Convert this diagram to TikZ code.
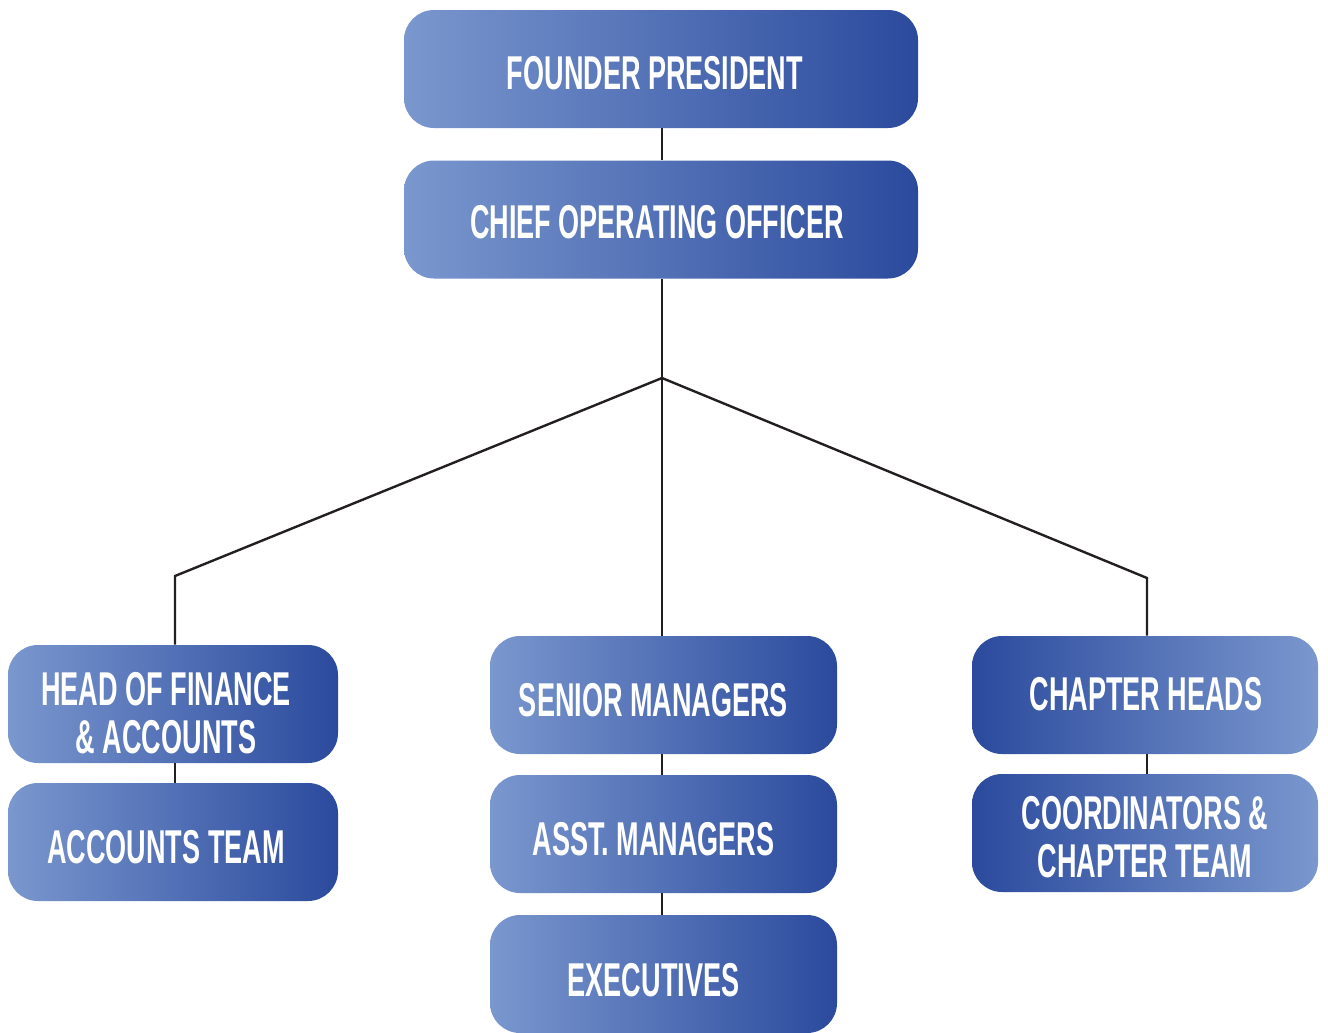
\documentclass[tikz,border=0pt]{standalone}
\usepackage{fontspec}
\newfontfamily\bebas[FakeStretch=0.57]{Liberation Sans}
\definecolor{lightb}{RGB}{122,151,206}
\definecolor{darkb}{RGB}{43,74,157}
\definecolor{linec}{RGB}{35,31,32}
\tikzset{
  box/.style={rounded corners=22.5pt, minimum height=118*0.75pt, inner sep=0pt, shade},
  boxlr/.style={box, left color=lightb, right color=darkb},
  boxrl/.style={box, left color=darkb, right color=lightb},
  lbl/.style={inner sep=0pt, text=white, align=center,
    font=\bebas\bfseries\fontsize{35.6}{36}\selectfont},
  conn/.style={draw=linec, line width=1.8pt}
}
\begin{document}
\begin{tikzpicture}[x=0.75pt,y=-0.75pt]
\useasboundingbox (0,0) rectangle (1328,1032);
\begin{scope}
\clip (0,0) rectangle (1328,1032);
\coordinate (j) at (662,378);
\coordinate (lb) at (175,576);
\coordinate (rb) at (1147,578);
\node[boxlr, minimum width=514*0.75pt] (fp) at (661,69) {};
\node[boxlr, minimum width=514*0.75pt] (coo) at (661,219.5) {};
\node[boxlr, minimum width=330*0.75pt] (hof) at (173,704) {};
\node[boxlr, minimum width=330*0.75pt] (at) at (173,842) {};
\node[boxlr, minimum width=347*0.75pt] (sm) at (663.5,695) {};
\node[boxlr, minimum width=347*0.75pt] (am) at (663.5,834) {};
\node[boxlr, minimum width=347*0.75pt] (ex) at (663.5,974) {};
\node[boxrl, minimum width=346*0.75pt] (ch) at (1145,695) {};
\node[boxrl, minimum width=346*0.75pt] (co) at (1145,833) {};
\node[lbl] (fp-t) at ([shift={(-6,4)}]fp.center) {FOUNDER PRESIDENT};
\node[lbl] (coo-t) at ([shift={(-4,2.5)}]coo.center) {CHIEF OPERATING OFFICER};
\node[lbl] (hof-t) at ([shift={(-7,9.5)}]hof.center) {HEAD OF FINANCE\\\& ACCOUNTS};
\node[lbl] (at-t) at ([shift={(-7,5)}]at.center) {ACCOUNTS TEAM};
\node[lbl] (sm-t) at ([shift={(-10,5)}]sm.center) {SENIOR MANAGERS};
\node[lbl] (am-t) at ([shift={(-10,5)}]am.center) {ASST. MANAGERS};
\node[lbl] (ex-t) at ([shift={(-10,6)}]ex.center) {EXECUTIVES};
\node[lbl] (ch-t) at ([shift={(1,-1)}]ch.center) {CHAPTER HEADS};
\node[lbl] (co-t) at ([shift={(0,4)}]co.center) {COORDINATORS \&\\CHAPTER TEAM};
\draw[conn] (fp.south -| j) -- (coo.north -| j);
\draw[conn] (coo.south -| j) -- (j) -- (sm.north -| j);
\draw[conn] (j) -- (lb) -- (hof.north -| lb);
\draw[conn] (j) -- (rb) -- (ch.north -| rb);
\draw[conn] (hof.south -| lb) -- (at.north -| lb);
\draw[conn] (sm.south -| j) -- (am.north -| j);
\draw[conn] (am.south -| j) -- (ex.north -| j);
\draw[conn] (ch.south -| rb) -- (co.north -| rb);
\end{scope}
\end{tikzpicture}
\end{document}
